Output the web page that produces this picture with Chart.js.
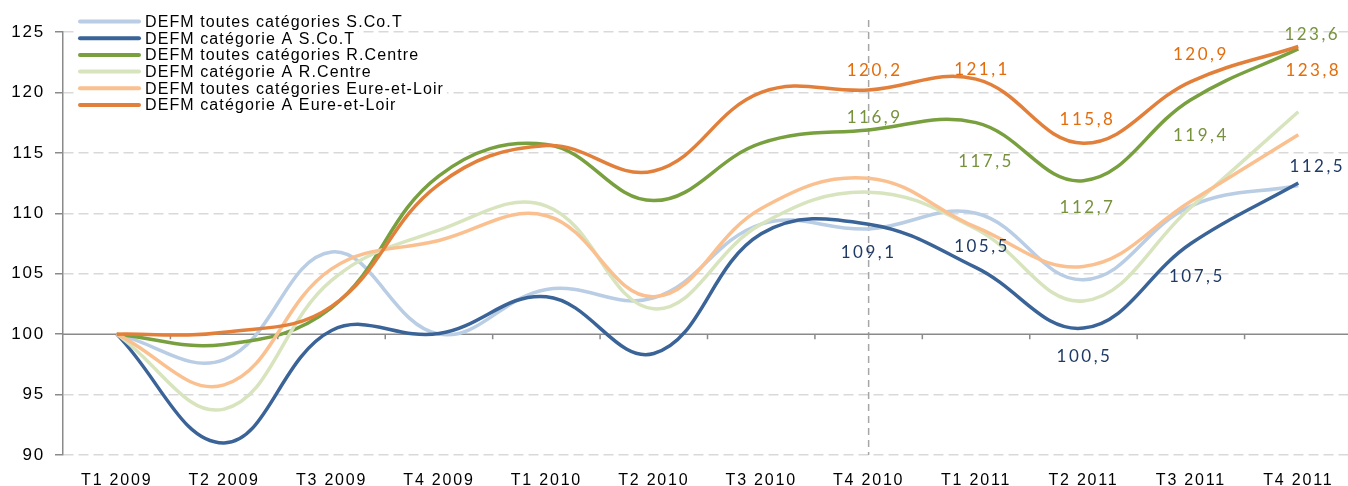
<!DOCTYPE html>
<html>
<head>
<meta charset="utf-8">
<script src="https://cdn.jsdelivr.net/npm/chart.js@4.4.1/dist/chart.umd.min.js"></script>
<style>
html,body{margin:0;padding:0;background:#fff;overflow:hidden;}
#wrap{position:relative;width:1352px;height:486px;}
</style>
</head>
<body>
<div id="wrap"><canvas id="chart"></canvas></div>
<script>
// Quarters on the x axis
const quarters = ['T1 2009','T2 2009','T3 2009','T4 2009','T1 2010','T2 2010','T3 2010','T4 2010','T1 2011','T2 2011','T3 2011','T4 2011'];

// Series (index base 100 at T1 2009)
const toutesSCoT     = [100, 97.9, 106.8, 100.0, 103.7, 103.0, 109.1, 108.7, 110.0, 104.5, 110.6, 112.3];
const catASCoT       = [100, 91.0, 100.3, 100.05, 103.1, 98.4, 108.3, 109.1, 105.5, 100.5, 107.5, 112.5];
const toutesRCentre  = [100, 99.15, 102.2, 113.1, 115.7, 111.05, 115.8, 116.9, 117.5, 112.7, 119.4, 123.6];
const catARCentre    = [100, 93.8, 104.45, 108.6, 110.6, 102.1, 109.1, 111.75, 108.7, 102.75, 110.5, 118.4];
const toutesEureLoir = [100, 95.8, 105.4, 107.75, 109.8, 103.1, 110.4, 112.9, 108.85, 105.6, 111.0, 116.5];
const catAEureLoir   = [100, 100.15, 102.3, 112.4, 115.6, 113.5, 120.0, 120.2, 121.1, 115.8, 120.9, 123.8];

const seriesNames = [
  'DEFM toutes catégories S.Co.T',
  'DEFM catégorie A S.Co.T',
  'DEFM toutes catégories R.Centre',
  'DEFM catégorie A R.Centre',
  'DEFM toutes catégories Eure-et-Loir',
  'DEFM catégorie A Eure-et-Loir'
];
const seriesData = [toutesSCoT, catASCoT, toutesRCentre, catARCentre, toutesEureLoir, catAEureLoir];
const lineColors = ['#b9cde5', '#3a6397', '#79a03f', '#d7e4bd', '#fac090', '#e2803b'];

// value labels shown from T4 2010 on, for three series
const markerQuarter = 'T4 2010';
const labelStart = 7;
const labelColors = {1: '#1f3a66', 2: '#76923c', 5: '#e46c0a'};
const labelOffsets = {
  1: [[0, 28], [6, -21], [1, 28], [6, 33], [19, -17]],
  2: [[6, -12], [10, 39], [4, 27], [10, 36], [14, -14]],
  5: [[6, -19], [6, -10], [4, -24], [10, -27], [15, 24]]
};

const fmt = v => v.toFixed(1).replace('.', ',');

const overlay = {
  id: 'overlay',
  beforeUpdate(chart) {
    chart.ctx.letterSpacing = '1.8px';
  },
  beforeDatasetsDraw(chart) {
    const {ctx, chartArea: a, scales: {x, y}} = chart;
    ctx.save();
    // vertical dashed marker
    const xm = x.getPixelForValue(quarters.indexOf(markerQuarter));
    ctx.strokeStyle = '#a6a6a6';
    ctx.lineWidth = 1.5;
    ctx.setLineDash([7, 5]);
    ctx.beginPath();
    ctx.moveTo(xm, a.top - 12);
    ctx.lineTo(xm, a.bottom);
    ctx.stroke();
    // horizontal axis crossing at 100
    const y100 = y.getPixelForValue(100);
    ctx.setLineDash([]);
    ctx.strokeStyle = '#8a8a8a';
    ctx.lineWidth = 1.5;
    ctx.beginPath();
    ctx.moveTo(a.left, y100);
    ctx.lineTo(a.right, y100);
    for (let i = 1; i < quarters.length; i++) {
      const px = (x.getPixelForValue(i - 1) + x.getPixelForValue(i)) / 2;
      ctx.moveTo(px, y100);
      ctx.lineTo(px, y100 + 5);
    }
    ctx.stroke();
    ctx.restore();
  },
  afterDatasetsDraw(chart) {
    const {ctx, scales: {x, y}} = chart;
    ctx.save();
    ctx.font = '17px Lato';
    ctx.letterSpacing = '2.5px';
    ctx.textAlign = 'center';
    ctx.textBaseline = 'middle';
    Object.keys(labelOffsets).forEach(k => {
      const data = seriesData[k];
      ctx.fillStyle = labelColors[k];
      labelOffsets[k].forEach((off, j) => {
        const i = labelStart + j;
        const px = x.getPixelForValue(i) + off[0];
        const py = y.getPixelForValue(data[i]) + off[1];
        ctx.fillText(fmt(data[i]), px, py);
      });
    });
    ctx.restore();
  },
  afterDraw(chart) {
    const ctx = chart.ctx;
    ctx.save();
    ctx.font = '16px "Liberation Sans", Arial, sans-serif';
    ctx.letterSpacing = '1.1px';
    ctx.textBaseline = 'middle';
    seriesNames.forEach((name, i) => {
      const cy = 21.5 + i * 16.7;
      const w = ctx.measureText(name).width;
      ctx.fillStyle = '#fff';
      ctx.fillRect(76, cy - 8, 72 + w, 16);
      ctx.strokeStyle = lineColors[i];
      ctx.lineWidth = 4;
      ctx.lineCap = 'round';
      ctx.beginPath();
      ctx.moveTo(80, cy);
      ctx.lineTo(139, cy);
      ctx.stroke();
      ctx.fillStyle = '#000';
      ctx.fillText(name, 145, cy + 1);
    });
    ctx.restore();
  }
};

new Chart(document.getElementById('chart'), {
  type: 'line',
  data: {
    labels: quarters,
    datasets: seriesNames.map((name, i) => ({
      label: name,
      data: seriesData[i],
      borderColor: lineColors[i],
      backgroundColor: lineColors[i],
      borderWidth: 3.5,
      pointRadius: 0,
      tension: 0.4,
      fill: false,
      order: seriesNames.length - i
    }))
  },
  options: {
    responsive: true,
    maintainAspectRatio: false,
    animation: false,
    layout: {padding: {top: 32, right: 0, bottom: 0, left: 0}},
    plugins: {legend: {display: false}, tooltip: {enabled: false}},
    scales: {
      x: {
        offset: true,
        grid: {display: false},
        border: {display: false},
        ticks: {
          color: '#000',
          padding: 8,
          maxRotation: 0,
          font: {family: '"Liberation Sans", Arial, sans-serif', size: 16}
        },
        afterFit(scale) { scale.height = 31; }
      },
      y: {
        min: 90,
        max: 125,
        border: {display: true, color: '#8a8a8a', width: 1.5, dash: [10, 5]},
        grid: {
          color: c => c.tick && c.tick.value === 100 ? 'rgba(0,0,0,0)' : '#d9d9d9',
          lineWidth: 1.5,
          tickColor: '#8a8a8a',
          tickLength: 8,
          tickBorderDash: []
        },
        ticks: {
          stepSize: 5,
          color: '#000',
          padding: 10,
          font: {family: '"Liberation Sans", Arial, sans-serif', size: 17}
        },
        afterFit(scale) { scale.width = 63; }
      }
    }
  },
  plugins: [overlay]
});
</script>
</body>
</html>
